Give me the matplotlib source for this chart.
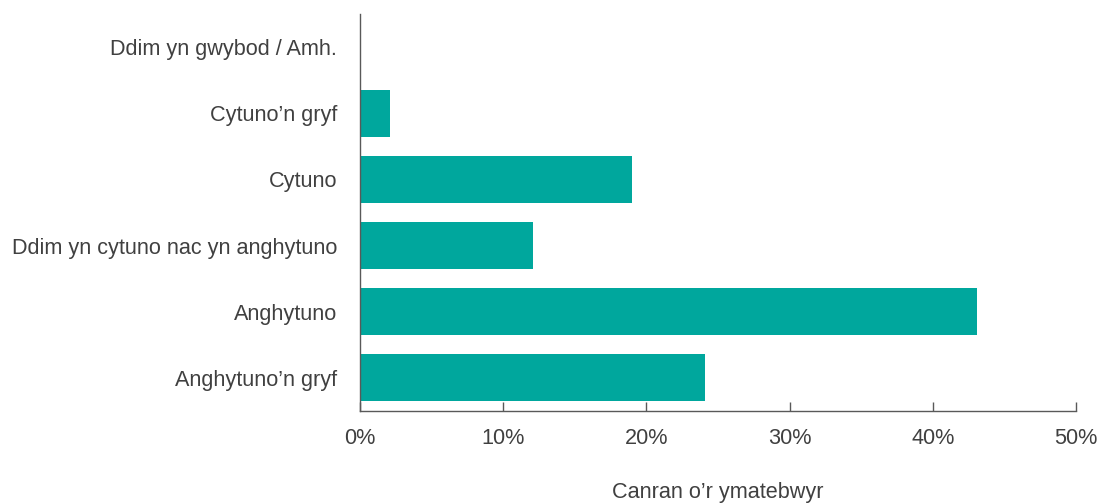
import matplotlib
matplotlib.use("Agg")
import matplotlib.pyplot as plt
from matplotlib.ticker import FuncFormatter

categories = ["Ddim yn gwybod / Amh.", "Cytuno’n gryf", "Cytuno",
              "Ddim yn cytuno nac yn anghytuno", "Anghytuno", "Anghytuno’n gryf"]
values = [0.1, 2.1, 19.0, 12.1, 43.1, 24.1]
xticks = [0, 10, 20, 30, 40, 50]

plt.rcParams['font.family'] = ['Liberation Sans', 'DejaVu Sans']
text_color = "#404040"
spine_color = "#595959"
bar_color = "#00A79D"
fs = 15.6

fig = plt.figure(figsize=(11.02, 5.03), dpi=100)
ax = fig.add_axes([360/1102, 1-411/503, (1076-360)/1102, (411-14)/503])

ypos = list(range(len(categories)))
ax.barh(ypos, values, height=0.71, color=bar_color)
ax.set_yticks(ypos)
ax.set_yticklabels(categories, fontsize=fs, color=text_color)
ax.set_ylim(5.5, -0.5)
ax.set_xlim(0, 50)
ax.set_xticks(xticks)
ax.xaxis.set_major_formatter(FuncFormatter(lambda v, p: f"{int(v)}%"))
for lab in ax.get_xticklabels():
    lab.set_fontsize(fs)
    lab.set_color(text_color)

ax.tick_params(axis='y', length=0, pad=16.5)
ax.tick_params(axis='x', direction='in', length=6.5, width=1, color=spine_color, pad=12)
for s in ['top', 'right']:
    ax.spines[s].set_visible(False)
for s in ['left', 'bottom']:
    ax.spines[s].set_color(spine_color)
    ax.spines[s].set_linewidth(1)

ax.set_xlabel("Canran o’r ymatebwyr", fontsize=fs, color=text_color, labelpad=24)

fig.savefig("out.png", dpi=100)
